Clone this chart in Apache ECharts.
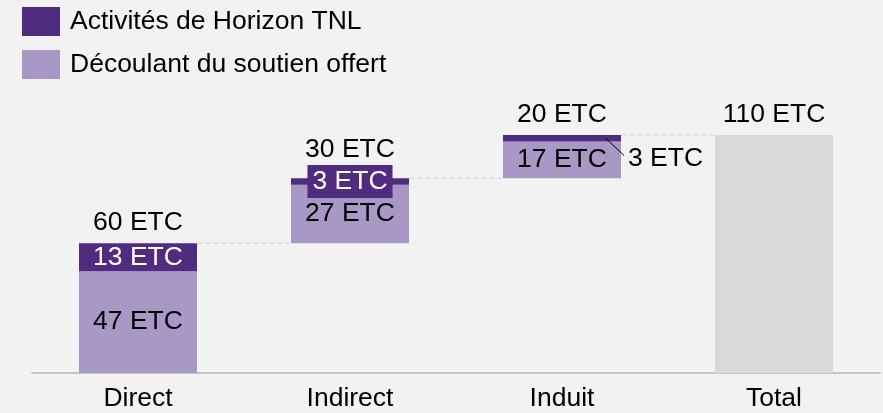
<!DOCTYPE html>
<html>
<head>
<meta charset="utf-8">
<script src="https://cdn.jsdelivr.net/npm/echarts@6/dist/echarts.min.js"></script>
<style>
html,body{margin:0;padding:0;background:#f2f2f2;}
#chart{width:883px;height:413px;}
</style>
</head>
<body>
<div id="chart"></div>
<script>
// ---- data ----
const categories = ['Direct', 'Indirect', 'Induit', 'Total'];
const soutienValues = [47, 27, 17];      // Découlant du soutien offert
const horizonValues = [13, 3, 3];        // Activités de Horizon TNL
const totalValue = 110;
const seriesNames = ['Activités de Horizon TNL', 'Découlant du soutien offert'];
const unit = ' ETC';

// ---- derived ----
const stepTotals = soutienValues.map((v, i) => v + horizonValues[i]);
const bases = [];
let run = 0;
stepTotals.forEach(t => { bases.push(run); run += t; });
const tops = bases.map((b, i) => b + stepTotals[i]);
const topLabelValues = stepTotals.concat([totalValue]);
const topLabelPositions = tops.concat([totalValue]);

const DARK = '#4F2C7F', LIGHT = '#A898C6', GREY = '#D9D9D9';
const FONT = '"Liberation Sans", Arial, sans-serif';
const FS = 26.5;
const BAR_RATIO = 118 / 212;

const chart = echarts.init(document.getElementById('chart'), null, {renderer: 'canvas'});

const horizonData = horizonValues.map((v, i) => {
  const item = {value: v};
  if (i === 0) {
    item.label = {show: true, position: 'inside', color: '#fff'};
  } else if (i === 1) {
    item.label = {show: true, position: 'inside', color: '#fff',
      backgroundColor: DARK, padding: [3, 5, 3, 5]};
  } else {
    item.label = {show: true, position: 'right', color: '#000', distance: 7, offset: [0, 20]};
  }
  return item;
});
horizonData.push('-');

const option = {
  backgroundColor: '#f2f2f2',
  animation: false,
  textStyle: {fontFamily: FONT},
  legend: {
    data: seriesNames,
    orient: 'vertical',
    left: 22, top: 7, padding: 0,
    itemWidth: 38, itemHeight: 29, itemGap: 14,
    icon: 'rect',
    textStyle: {fontSize: FS, color: '#000', fontFamily: FONT, padding: [0, 0, 0, 5]}
  },
  grid: {left: 32, right: 3, top: 135, bottom: 40},
  xAxis: {
    type: 'category',
    data: categories,
    axisLine: {lineStyle: {color: '#c4c4c4', width: 2}},
    axisTick: {show: false},
    axisLabel: {fontSize: FS, color: '#000', margin: 12, fontFamily: FONT}
  },
  yAxis: {
    type: 'value', min: 0, max: totalValue, show: false,
    splitLine: {show: false}
  },
  series: [
    {
      type: 'custom',
      silent: true,
      z: 1,
      data: bases.map((b, i) => [i, tops[i]]),
      renderItem: function (params, api) {
        const i = api.value(0), y = api.value(1);
        const p0 = api.coord([i, y]);
        const p1 = api.coord([i + 1, y]);
        const half = api.size([1, 0])[0] * BAR_RATIO / 2;
        return {
          type: 'line',
          shape: {x1: p0[0] + half, y1: p0[1], x2: p1[0] - half, y2: p1[1]},
          style: {stroke: '#d2d2d2', lineWidth: 1, lineDash: [5, 3]}
        };
      }
    },
    {
      // leader line for the small outside label of the last step
      type: 'custom',
      silent: true,
      z: 10,
      data: [[2, tops[2] - horizonValues[2]]],
      renderItem: function (params, api) {
        const p = api.coord([api.value(0), api.value(1)]);
        const half = api.size([1, 0])[0] * BAR_RATIO / 2;
        const x0 = p[0] + half - 15, y0 = p[1] - 3;
        return {
          type: 'line',
          shape: {x1: x0, y1: y0, x2: x0 + 18, y2: y0 + 17},
          style: {stroke: '#000', lineWidth: 1}
        };
      }
    },
    {
      name: 'base', type: 'bar', stack: 'w', silent: true,
      barWidth: (BAR_RATIO * 100) + '%',
      itemStyle: {color: 'transparent'},
      data: bases.concat(['-'])
    },
    {
      name: seriesNames[1], type: 'bar', stack: 'w',
      itemStyle: {color: LIGHT},
      label: {show: true, position: 'inside', color: '#000', fontSize: FS, fontFamily: FONT,
        formatter: p => p.value + unit},
      data: soutienValues.concat(['-'])
    },
    {
      name: seriesNames[0], type: 'bar', stack: 'w',
      itemStyle: {color: DARK},
      label: {show: true, fontSize: FS, fontFamily: FONT, formatter: p => p.value + unit},
      data: horizonData,
      z: 3
    },
    {
      name: 'Total', type: 'bar', stack: 'w',
      itemStyle: {color: GREY},
      data: [null, null, null].map(() => '-').concat([totalValue])
    },
    {
      type: 'scatter', symbolSize: 0, silent: true, z: 5,
      itemStyle: {opacity: 1},
      data: topLabelPositions.map((y, i) => ({
        value: [i, y],
        label: i === 1 ? {offset: [0, -8]} : undefined
      })),
      label: {show: true, position: 'top', distance: 7, color: '#000', opacity: 1,
        fontSize: FS, fontFamily: FONT,
        formatter: p => topLabelValues[p.dataIndex] + unit}
    }
  ]
};
chart.setOption(option);
</script>
</body>
</html>
